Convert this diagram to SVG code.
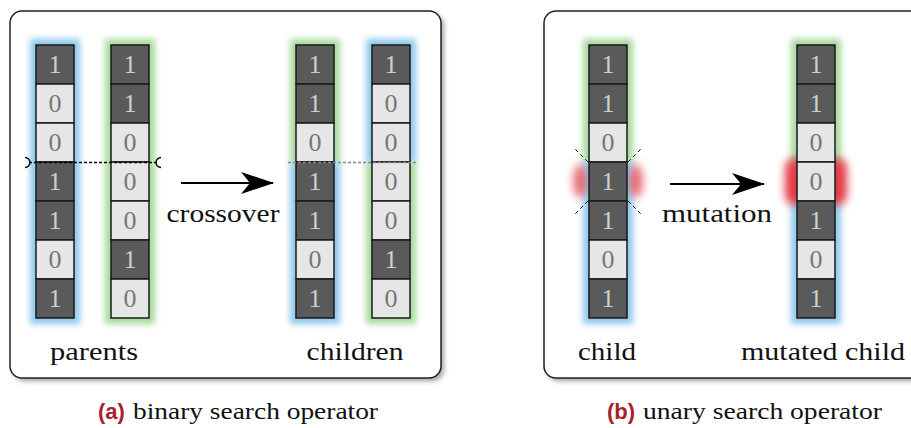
<svg xmlns="http://www.w3.org/2000/svg" width="911" height="428" viewBox="0 0 911 428">
<defs>
<filter id="glow" x="-50%" y="-10%" width="200%" height="120%"><feGaussianBlur stdDeviation="3"/></filter>
<filter id="redglow" x="-100%" y="-100%" width="300%" height="300%"><feGaussianBlur stdDeviation="4"/></filter>
<filter id="shadow" x="-10%" y="-10%" width="120%" height="120%"><feGaussianBlur stdDeviation="2.5"/></filter>
<marker id="arrow" viewBox="0 0 34 22" refX="32" refY="11" markerWidth="34" markerHeight="22" markerUnits="userSpaceOnUse" orient="auto">
<path d="M0,0 L33,11 L0,22 L9,11 Z" fill="#000"/>
</marker>
</defs>
<style>
.panel{fill:#fff;stroke:#222;stroke-width:1.5}
.pshadow{fill:#777;opacity:0.7}
.d{fill:#5a5a5a;stroke:#1a1a1a;stroke-width:1.5}
.l{fill:#e6e6e6;stroke:#1a1a1a;stroke-width:1.5}
.dt{fill:#cfcfcf}
.lt{fill:#777}
.dg{font-size:26px;text-anchor:middle}
.lbl{font-size:26px;fill:#111;text-anchor:middle}
.cap{font-size:24px;fill:#111}
.capb{font-family:'Liberation Sans',Arial,sans-serif;font-size:22px;font-weight:bold;fill:#a8222a}
.blue{fill:#8fc8ec}
.green{fill:#a6d99c}
.red{fill:#e0303a}
.conn{stroke:#000;stroke-width:2;fill:none}
</style>

<g id="panels">
<rect class="pshadow" x="13" y="14" width="431" height="367" rx="12" filter="url(#shadow)"/>
<rect class="panel" x="10" y="11" width="431" height="367" rx="12"/>
<rect class="pshadow" x="547" y="14" width="420" height="367" rx="12" filter="url(#shadow)"/>
<rect class="panel" x="544" y="11" width="420" height="367" rx="12"/>
</g>

<g id="glows">
<rect class="blue" x="30" y="39" width="50" height="285" filter="url(#glow)"/>
<rect class="green" x="105" y="39" width="50" height="285" filter="url(#glow)"/>
<rect class="green" x="290" y="39" width="50" height="124" filter="url(#glow)"/>
<rect class="blue" x="290" y="162" width="50" height="162" filter="url(#glow)"/>
<rect class="blue" x="366" y="39" width="50" height="124" filter="url(#glow)"/>
<rect class="green" x="366" y="162" width="50" height="162" filter="url(#glow)"/>
<rect class="green" x="583" y="39" width="50" height="124" filter="url(#glow)"/>
<rect class="blue" x="583" y="162" width="50" height="162" filter="url(#glow)"/>
<ellipse class="red" cx="580" cy="181" rx="7" ry="17" opacity="0.7" filter="url(#redglow)"/>
<ellipse class="red" cx="636" cy="181" rx="7" ry="17" opacity="0.7" filter="url(#redglow)"/>
<rect class="green" x="791" y="39" width="50" height="124" filter="url(#glow)"/>
<rect class="blue" x="791" y="201" width="50" height="123" filter="url(#glow)"/>
<rect class="red" x="785" y="158" width="62" height="47" rx="10" opacity="0.95" filter="url(#redglow)"/>
</g>

<g font-family="Liberation Serif, DejaVu Serif, Noto Serif, serif">
<g id="parent1">
<rect class="d" x="36" y="45" width="38" height="39"/><text class="dg dt" x="55" y="73">1</text>
<rect class="l" x="36" y="84" width="38" height="39"/><text class="dg lt" x="55" y="112">0</text>
<rect class="l" x="36" y="123" width="38" height="39"/><text class="dg lt" x="55" y="151">0</text>
<rect class="d" x="36" y="162" width="38" height="39"/><text class="dg dt" x="55" y="190">1</text>
<rect class="d" x="36" y="201" width="38" height="39"/><text class="dg dt" x="55" y="229">1</text>
<rect class="l" x="36" y="240" width="38" height="39"/><text class="dg lt" x="55" y="268">0</text>
<rect class="d" x="36" y="279" width="38" height="39"/><text class="dg dt" x="55" y="307">1</text>
</g>

<g id="parent2">
<rect class="d" x="111" y="45" width="38" height="39"/><text class="dg dt" x="130" y="73">1</text>
<rect class="d" x="111" y="84" width="38" height="39"/><text class="dg dt" x="130" y="112">1</text>
<rect class="l" x="111" y="123" width="38" height="39"/><text class="dg lt" x="130" y="151">0</text>
<rect class="l" x="111" y="162" width="38" height="39"/><text class="dg lt" x="130" y="190">0</text>
<rect class="l" x="111" y="201" width="38" height="39"/><text class="dg lt" x="130" y="229">0</text>
<rect class="d" x="111" y="240" width="38" height="39"/><text class="dg dt" x="130" y="268">1</text>
<rect class="l" x="111" y="279" width="38" height="39"/><text class="dg lt" x="130" y="307">0</text>
</g>

<g id="child1">
<rect class="d" x="296" y="45" width="38" height="39"/><text class="dg dt" x="315" y="73">1</text>
<rect class="d" x="296" y="84" width="38" height="39"/><text class="dg dt" x="315" y="112">1</text>
<rect class="l" x="296" y="123" width="38" height="39"/><text class="dg lt" x="315" y="151">0</text>
<rect class="d" x="296" y="162" width="38" height="39"/><text class="dg dt" x="315" y="190">1</text>
<rect class="d" x="296" y="201" width="38" height="39"/><text class="dg dt" x="315" y="229">1</text>
<rect class="l" x="296" y="240" width="38" height="39"/><text class="dg lt" x="315" y="268">0</text>
<rect class="d" x="296" y="279" width="38" height="39"/><text class="dg dt" x="315" y="307">1</text>
</g>

<g id="child2">
<rect class="d" x="372" y="45" width="38" height="39"/><text class="dg dt" x="391" y="73">1</text>
<rect class="l" x="372" y="84" width="38" height="39"/><text class="dg lt" x="391" y="112">0</text>
<rect class="l" x="372" y="123" width="38" height="39"/><text class="dg lt" x="391" y="151">0</text>
<rect class="l" x="372" y="162" width="38" height="39"/><text class="dg lt" x="391" y="190">0</text>
<rect class="l" x="372" y="201" width="38" height="39"/><text class="dg lt" x="391" y="229">0</text>
<rect class="d" x="372" y="240" width="38" height="39"/><text class="dg dt" x="391" y="268">1</text>
<rect class="l" x="372" y="279" width="38" height="39"/><text class="dg lt" x="391" y="307">0</text>
</g>

<g id="child">
<rect class="d" x="589" y="45" width="38" height="39"/><text class="dg dt" x="608" y="73">1</text>
<rect class="d" x="589" y="84" width="38" height="39"/><text class="dg dt" x="608" y="112">1</text>
<rect class="l" x="589" y="123" width="38" height="39"/><text class="dg lt" x="608" y="151">0</text>
<rect class="d" x="589" y="162" width="38" height="39"/><text class="dg dt" x="608" y="190">1</text>
<rect class="d" x="589" y="201" width="38" height="39"/><text class="dg dt" x="608" y="229">1</text>
<rect class="l" x="589" y="240" width="38" height="39"/><text class="dg lt" x="608" y="268">0</text>
<rect class="d" x="589" y="279" width="38" height="39"/><text class="dg dt" x="608" y="307">1</text>
</g>

<g id="mutated-child">
<rect class="d" x="797" y="45" width="38" height="39"/><text class="dg dt" x="816" y="73">1</text>
<rect class="d" x="797" y="84" width="38" height="39"/><text class="dg dt" x="816" y="112">1</text>
<rect class="l" x="797" y="123" width="38" height="39"/><text class="dg lt" x="816" y="151">0</text>
<rect class="l" x="797" y="162" width="38" height="39"/><text class="dg lt" x="816" y="190">0</text>
<rect class="d" x="797" y="201" width="38" height="39"/><text class="dg dt" x="816" y="229">1</text>
<rect class="l" x="797" y="240" width="38" height="39"/><text class="dg lt" x="816" y="268">0</text>
<rect class="d" x="797" y="279" width="38" height="39"/><text class="dg dt" x="816" y="307">1</text>
</g>
</g>

<g id="connectors">
<line x1="29" y1="162.5" x2="157" y2="162.5" stroke="#000" stroke-width="1.5" stroke-dasharray="3,2"/>
<path d="M25,157.5 A5,5 0 0 1 25,167.5" fill="none" stroke="#000" stroke-width="1.3"/>
<path d="M161,157.5 A5,5 0 0 0 161,167.5" fill="none" stroke="#000" stroke-width="1.3"/>
<line x1="288" y1="162.5" x2="418" y2="162.5" stroke="#888" stroke-width="1.3" stroke-dasharray="3,2"/>
<g stroke="#222" stroke-width="1" stroke-dasharray="4,3">
<line x1="588" y1="162" x2="575" y2="149"/>
<line x1="588" y1="201" x2="575" y2="214"/>
<line x1="628" y1="162" x2="641" y2="149"/>
<line x1="628" y1="201" x2="641" y2="214"/>
</g>
<line class="conn" x1="181" y1="183" x2="273" y2="183" marker-end="url(#arrow)"/>
<line class="conn" x1="670" y1="184" x2="764" y2="184" marker-end="url(#arrow)"/>
</g>

<g id="labels" font-family="Liberation Serif, DejaVu Serif, Noto Serif, serif">
<text class="lbl" x="223" y="222" textLength="113" lengthAdjust="spacingAndGlyphs">crossover</text>
<text class="lbl" x="717" y="222" textLength="110" lengthAdjust="spacingAndGlyphs">mutation</text>
<text class="lbl" x="94" y="360" textLength="88" lengthAdjust="spacingAndGlyphs">parents</text>
<text class="lbl" x="355" y="360" textLength="97" lengthAdjust="spacingAndGlyphs">children</text>
<text class="lbl" x="607" y="360" textLength="58" lengthAdjust="spacingAndGlyphs">child</text>
<text class="lbl" x="823" y="360" textLength="164" lengthAdjust="spacingAndGlyphs">mutated child</text>
<text class="capb" x="98" y="419">(a)</text>
<text class="cap" x="133" y="419" textLength="245" lengthAdjust="spacingAndGlyphs">binary search operator</text>
<text class="capb" x="607" y="419">(b)</text>
<text class="cap" x="643" y="419" textLength="239" lengthAdjust="spacingAndGlyphs">unary search operator</text>
</g>
</svg>
